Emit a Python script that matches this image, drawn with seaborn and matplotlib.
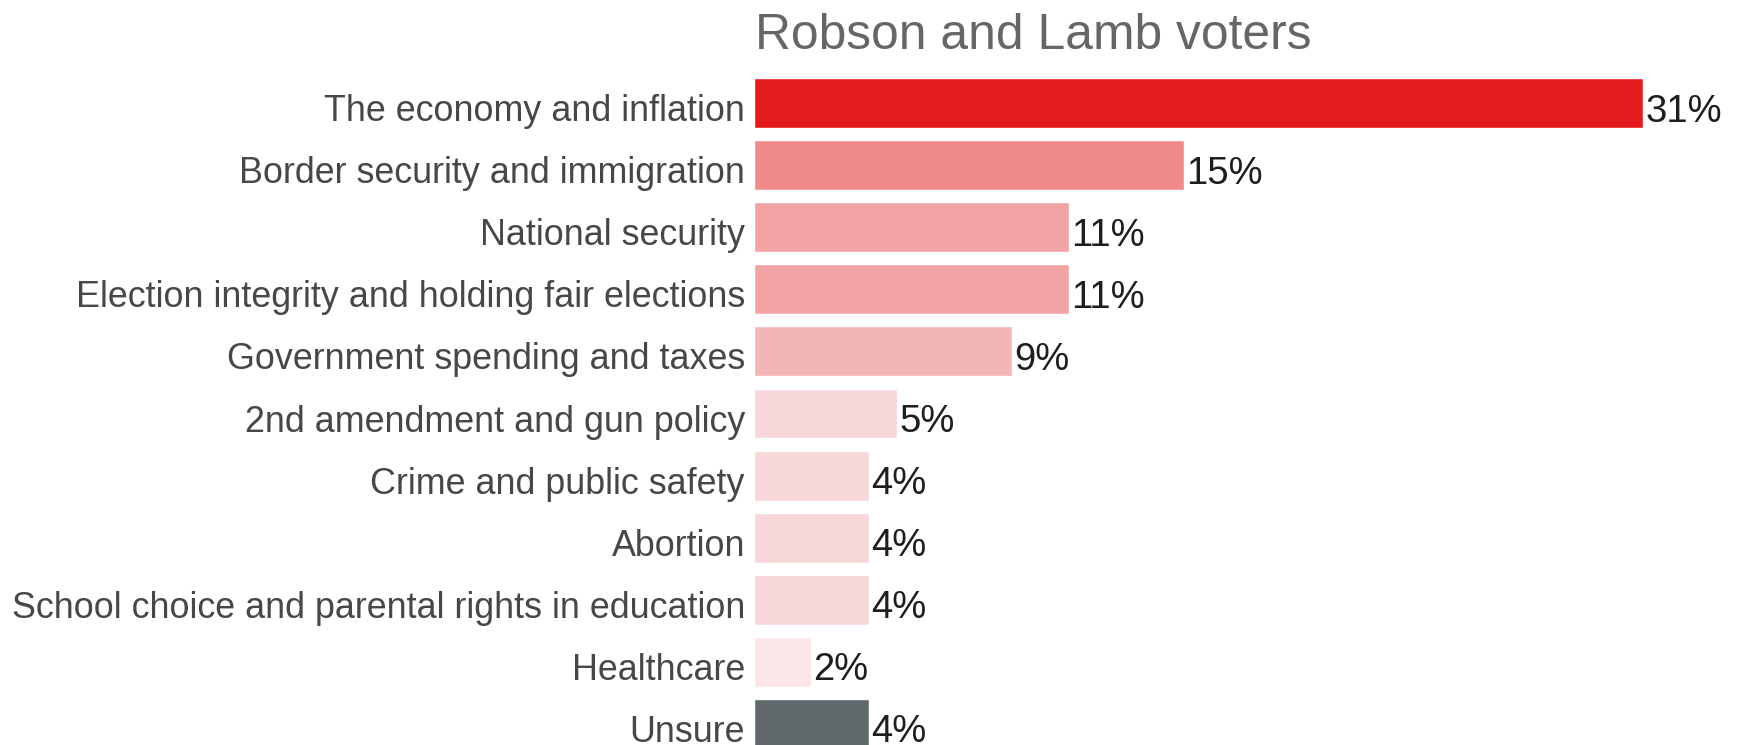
import matplotlib
matplotlib.use("Agg")
import matplotlib.pyplot as plt
import matplotlib.transforms as mtransforms
import seaborn as sns
import pandas as pd

categories = [
    "The economy and inflation",
    "Border security and immigration",
    "National security",
    "Election integrity and holding fair elections",
    "Government spending and taxes",
    "2nd amendment and gun policy",
    "Crime and public safety",
    "Abortion",
    "School choice and parental rights in education",
    "Healthcare",
    "Unsure",
]
values = [31, 15, 11, 11, 9, 5, 4, 4, 4, 2, 4]
bar_colors = ["#E41A1C", "#F08A8B", "#F2A4A5", "#F2A4A5", "#F4B5B6",
              "#F8D7DA", "#F8D7DA", "#F8D7DA", "#F8D7DA", "#FBE5E7", "#5F676A"]
title = "Robson and Lamb voters"

sns.set_style("white")
plt.rcParams["font.family"] = ["Liberation Sans", "DejaVu Sans"]

df = pd.DataFrame({"issue": categories, "pct": values})

W, H = 1739, 745
fig = plt.figure(figsize=(W / 100, H / 100), dpi=100)
pitch = 62.1
left = 754 / W
xmax = 34
px_per = 28.68
ax_w = px_per * xmax / W
top_px = 103 - pitch / 2
ax_h = 11 * pitch / H
ax_top = (H - top_px) / H
ax = fig.add_axes([left, ax_top - ax_h, ax_w, ax_h])

sns.barplot(data=df, x="pct", y="issue", hue="issue", palette=bar_colors,
            saturation=1, width=0.805, legend=False, orient="h", ax=ax)

ax.set_xlim(0, xmax)
ax.set_ylim(10.5, -0.5)
ax.set_xlabel("")
ax.set_ylabel("")
ax.set_xticks([])
sns.despine(ax=ax, left=True, bottom=True)
ax.tick_params(axis="y", length=0, pad=6.5, labelsize=25.8, labelcolor="#4A4546")

shift = mtransforms.ScaledTranslation(0, -4.5 / 100, fig.dpi_scale_trans)
for lab in ax.get_yticklabels():
    lab.set_transform(lab.get_transform() + shift)

for i, v in enumerate(values):
    ax.text(v + 0.07, i, f"{v}%", va="center_baseline", ha="left",
            fontsize=27.5, color="#1E1E1E",
            transform=ax.transData + shift)

fig.text(755 / W, (H - 49) / H, title, fontsize=35.8, color="#666666",
         ha="left", va="baseline")

fig.savefig("out.png", dpi=100)
